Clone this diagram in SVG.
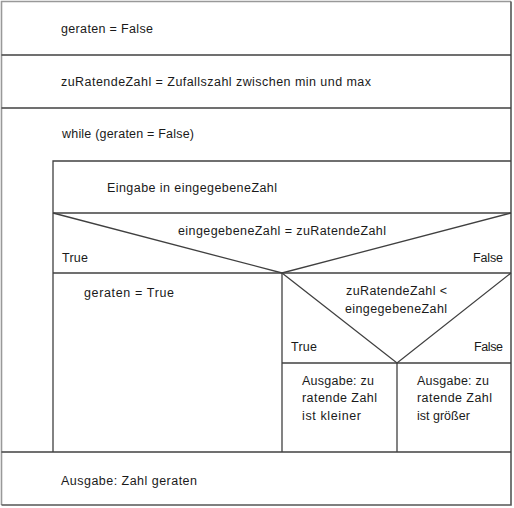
<svg xmlns="http://www.w3.org/2000/svg" width="514" height="508" viewBox="0 0 514 508">
<style>
.l{stroke:#404040;stroke-width:1.3;fill:none}
.t{font-family:"Liberation Sans",Arial,sans-serif;font-size:12.5px;fill:#1a1a1a}
</style>
<rect x="0" y="0" width="514" height="508" fill="#ffffff"/>
<g id="frame">
<path d="M1.5,505 V1.5 H511" stroke="#999999" stroke-width="1.6" fill="none"/>
<path d="M511,1.5 V505 H1.5" stroke="#555555" stroke-width="1.6" fill="none"/>
</g>
<g id="n1">
<text class="t" x="61" y="33" textLength="92" lengthAdjust="spacing">geraten = False</text>
</g>
<g id="n2">
<line class="l" x1="1.5" y1="55" x2="511" y2="55"/>
<text class="t" x="61" y="86" textLength="310" lengthAdjust="spacing">zuRatendeZahl = Zufallszahl zwischen min und max</text>
</g>
<g id="loop">
<line class="l" x1="1.5" y1="108" x2="511" y2="108"/>
<text class="t" x="62" y="138" textLength="132" lengthAdjust="spacing">while (geraten = False)</text>
<path class="l" d="M53,452 V161 H511"/>
</g>
<g id="input">
<text class="t" x="107" y="192" textLength="170" lengthAdjust="spacing">Eingabe in eingegebeneZahl</text>
</g>
<g id="decision1">
<line class="l" x1="53" y1="213" x2="511" y2="213"/>
<path class="l" d="M53,213 L282,273 L511,213"/>
<text class="t" x="178" y="235" textLength="208" lengthAdjust="spacing">eingegebeneZahl = zuRatendeZahl</text>
<text class="t" x="62" y="262" textLength="26" lengthAdjust="spacing">True</text>
<text class="t" x="473" y="262" textLength="30" lengthAdjust="spacing">False</text>
<line class="l" x1="53" y1="273" x2="511" y2="273"/>
<line class="l" x1="282" y1="273" x2="282" y2="452"/>
</g>
<g id="setTrue">
<text class="t" x="84" y="297" textLength="90" lengthAdjust="spacing">geraten = True</text>
</g>
<g id="decision2">
<path class="l" d="M282,273 L397,363 L511,273"/>
<text class="t" x="346" y="295" textLength="101" lengthAdjust="spacing">zuRatendeZahl &lt;</text>
<text class="t" x="345" y="313" textLength="102" lengthAdjust="spacing">eingegebeneZahl</text>
<text class="t" x="291" y="351" textLength="26" lengthAdjust="spacing">True</text>
<text class="t" x="474" y="351" textLength="29" lengthAdjust="spacing">False</text>
<line class="l" x1="282" y1="363" x2="511" y2="363"/>
<line class="l" x1="397" y1="363" x2="397" y2="452"/>
</g>
<g id="outSmaller">
<text class="t" x="302" y="385" textLength="72" lengthAdjust="spacing">Ausgabe: zu</text>
<text class="t" x="302" y="402" textLength="75" lengthAdjust="spacing">ratende Zahl</text>
<text class="t" x="302" y="420" textLength="59" lengthAdjust="spacing">ist kleiner</text>
</g>
<g id="outBigger">
<text class="t" x="417" y="385" textLength="72" lengthAdjust="spacing">Ausgabe: zu</text>
<text class="t" x="417" y="402" textLength="75" lengthAdjust="spacing">ratende Zahl</text>
<text class="t" x="417" y="420">ist größer</text>
</g>
<g id="outGuessed">
<line class="l" x1="1.5" y1="452" x2="511" y2="452"/>
<text class="t" x="61" y="485" textLength="136" lengthAdjust="spacing">Ausgabe: Zahl geraten</text>
</g>
<g id="connectors"/>
</svg>
